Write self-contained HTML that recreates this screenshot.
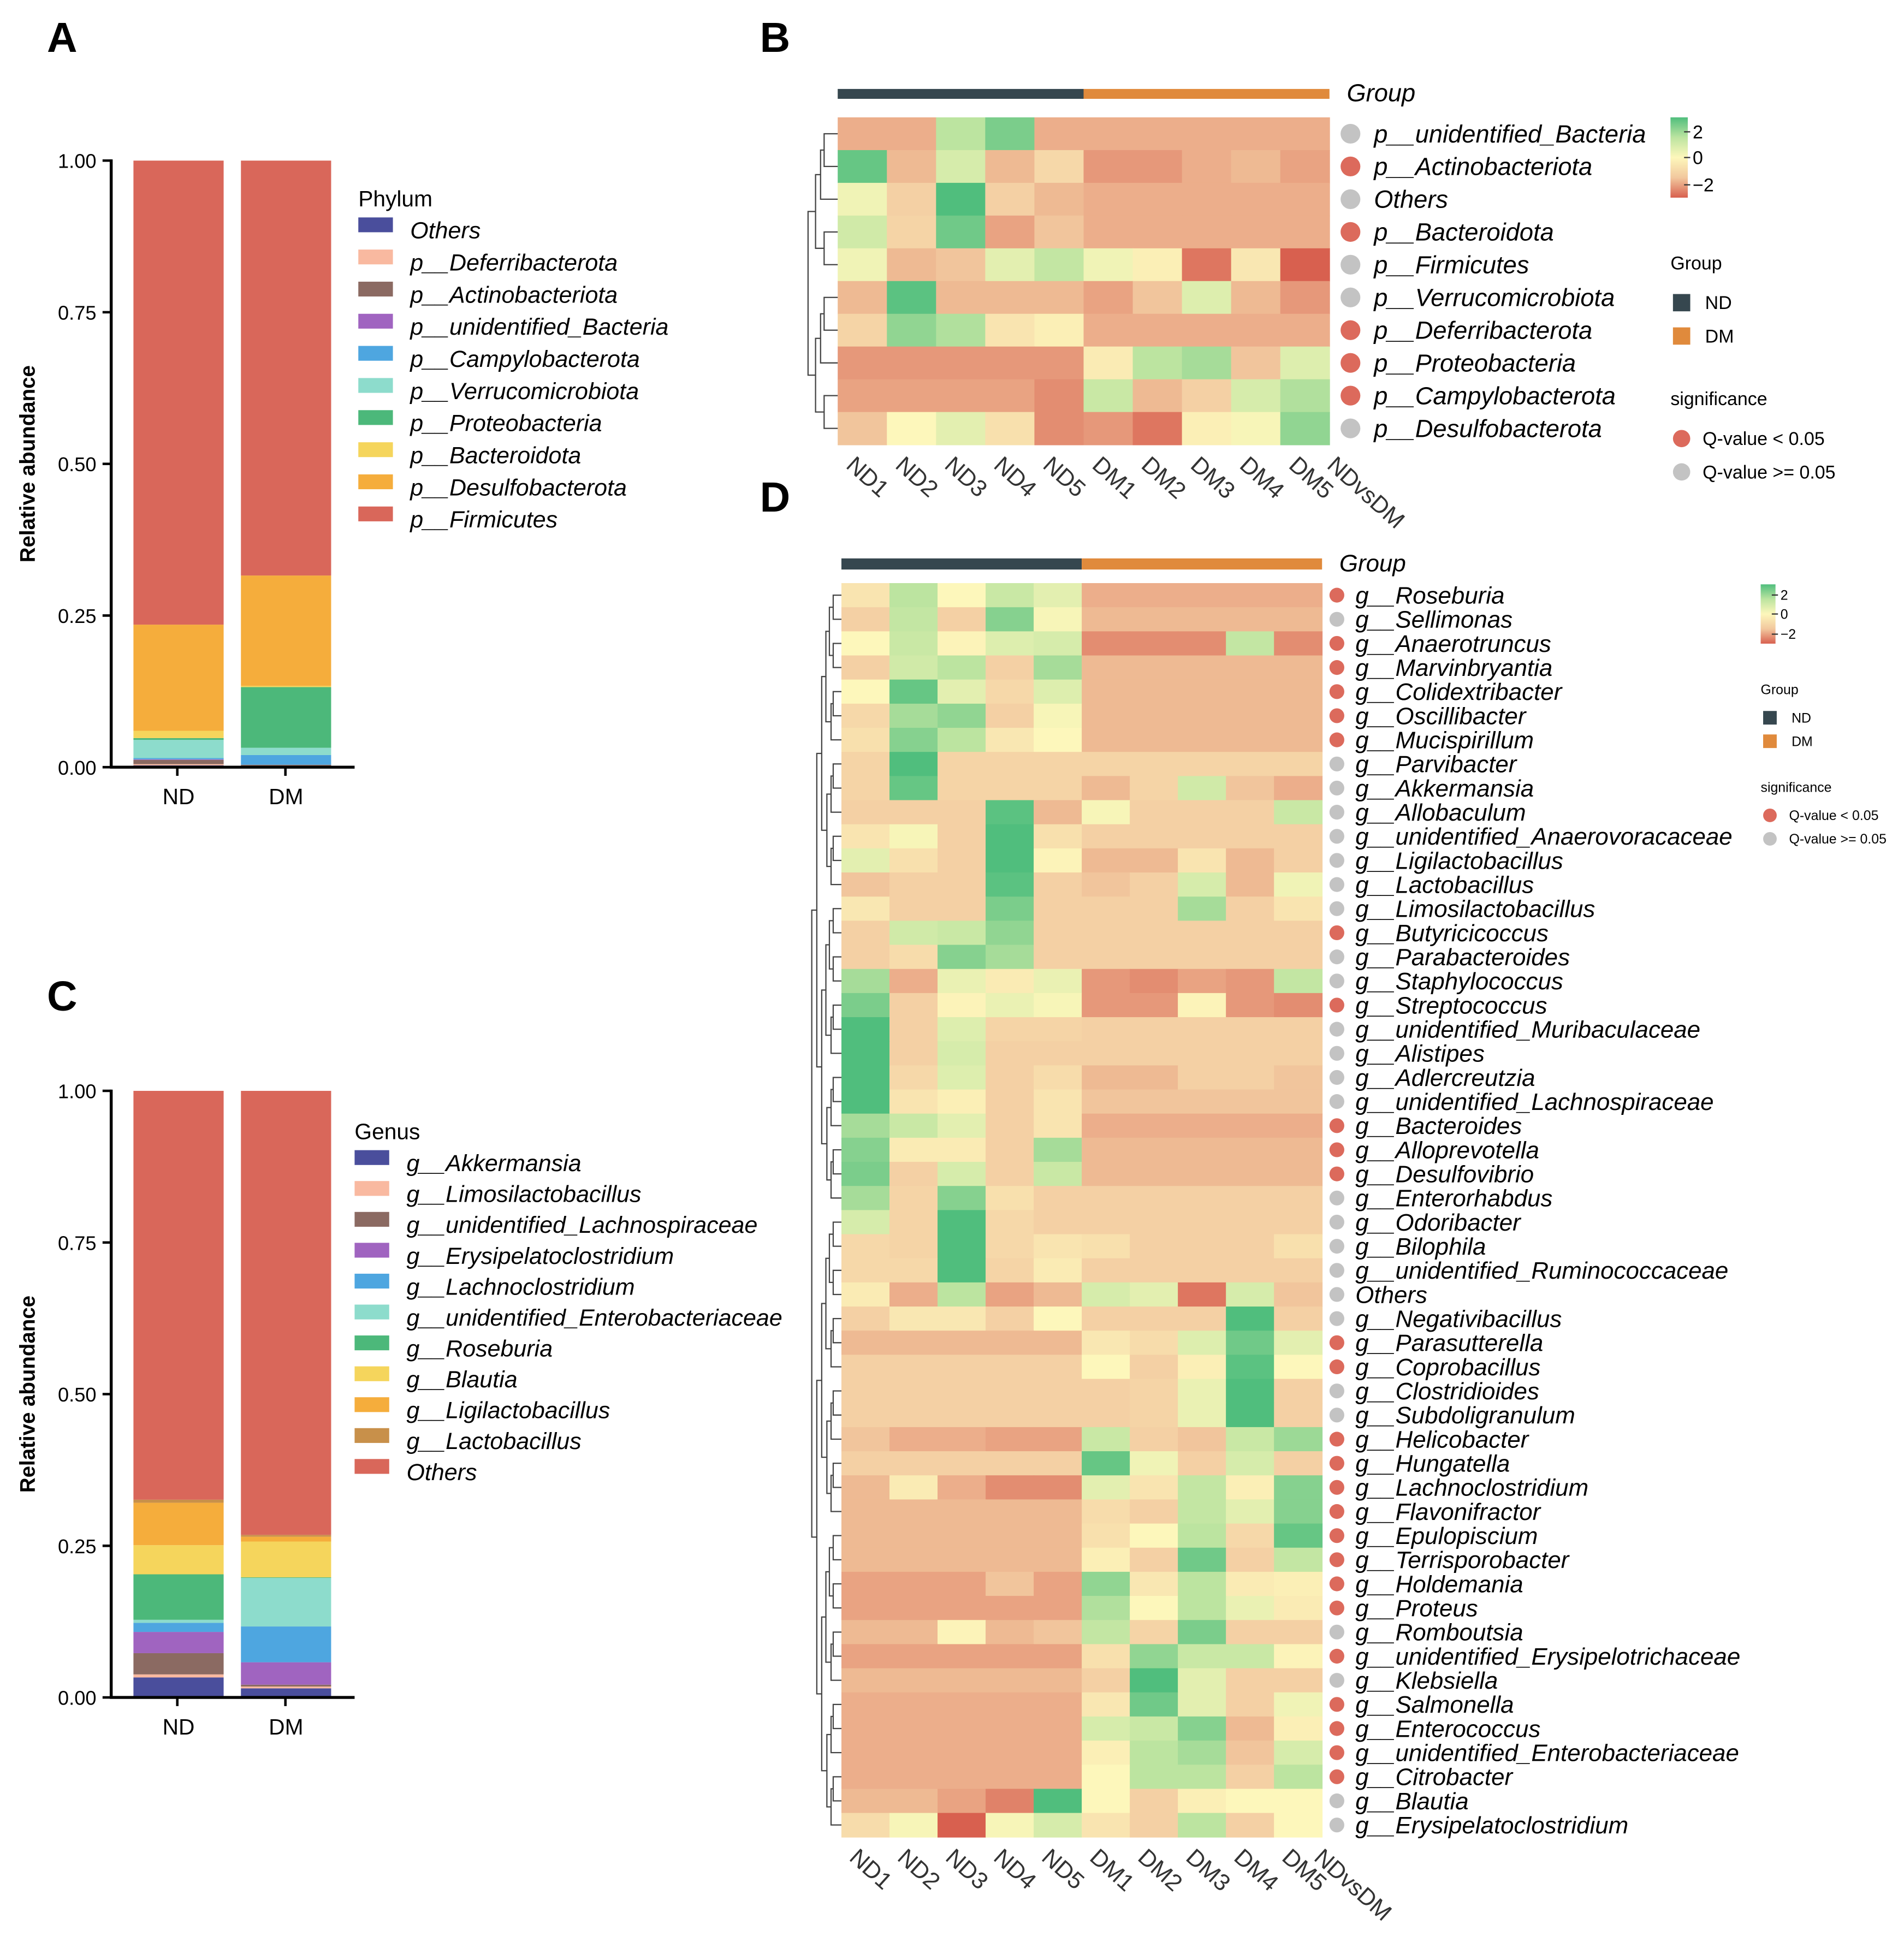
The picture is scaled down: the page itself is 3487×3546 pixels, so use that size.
<!DOCTYPE html>
<html><head><meta charset="utf-8"><style>
html,body{margin:0;padding:0;background:#fff}
svg{display:block}
text{font-family:"Liberation Sans",Arial,sans-serif}
</style></head><body>
<svg id="fig" xmlns="http://www.w3.org/2000/svg" width="3487" height="3546" viewBox="0 0 1541 1567.1" preserveAspectRatio="none">
<rect x="0" y="0" width="1560" height="1587" fill="#fff"/>
<text x="38" y="42" font-size="34" font-weight="bold">A</text>
<text x="615" y="42" font-size="34" font-weight="bold">B</text>
<text x="38" y="818" font-size="34" font-weight="bold">C</text>
<text x="615" y="414" font-size="34" font-weight="bold">D</text>
<g id="gA"></g>
<g id="gC"></g>
<g id="gB"></g>
<g id="gD"></g>
</svg>
<script>
// ---------- Data: stacked bars ----------
const phylaNames = ["Others","p__Deferribacterota","p__Actinobacteriota","p__unidentified_Bacteria","p__Campylobacterota","p__Verrucomicrobiota","p__Proteobacteria","p__Bacteroidota","p__Desulfobacterota","p__Firmicutes"];
const phylaColors = ["#4a4e9c","#f9b9a0","#8b6a62","#a064c0","#4ea6e0","#8ddccc","#4cb87a","#f5d55c","#f5ad3c","#d9675a"];
const phylaND = [0.003,0.002,0.007,0.001,0.002,0.030,0.003,0.012,0.175,0.765];
const phylaDM = [0.002,0.000,0.002,0.000,0.016,0.012,0.100,0.002,0.182,0.684];
const genusNames = ["g__Akkermansia","g__Limosilactobacillus","g__unidentified_Lachnospiraceae","g__Erysipelatoclostridium","g__Lachnoclostridium","g__unidentified_Enterobacteriaceae","g__Roseburia","g__Blautia","g__Ligilactobacillus","g__Lactobacillus","Others"];
const genusColors = ["#4a4e9c","#f9b9a0","#8b6a62","#a064c0","#4ea6e0","#8ddccc","#4cb87a","#f5d55c","#f5ad3c","#c8904a","#d9675a"];
const genusND = [0.033,0.005,0.035,0.035,0.015,0.005,0.075,0.048,0.070,0.005,0.674];
const genusDM = [0.015,0.003,0.003,0.037,0.059,0.080,0.001,0.059,0.008,0.003,0.732];
const barGroups = ["ND","DM"];
const yTicks = [0,0.25,0.5,0.75,1.0];
const yTickLabels = ["0.00","0.25","0.50","0.75","1.00"];

// ---------- Data: heatmap B ----------
const bRows = ["p__unidentified_Bacteria","p__Actinobacteriota","Others","p__Bacteroidota","p__Firmicutes","p__Verrucomicrobiota","p__Deferribacterota","p__Proteobacteria","p__Campylobacterota","p__Desulfobacterota"];
const bSig = [0,1,0,1,0,0,1,1,1,0];
const sampleCols = ["ND1","ND2","ND3","ND4","ND5","DM1","DM2","DM3","DM4","DM5"];
const bValues = [
[-1.3,-1.3,1,1.6,-1.3,-1.3,-1.3,-1.3,-1.3,-1.3],
[1.8,-1.2,0.6,-1.2,-0.8,-1.5,-1.5,-1.3,-1.2,-1.4],
[0.2,-1,2,-1,-1.2,-1.3,-1.3,-1.3,-1.3,-1.3],
[0.7,-0.9,1.7,-1.4,-1.1,-1.3,-1.3,-1.3,-1.3,-1.3],
[0.2,-1.2,-1.1,0.4,0.9,0.2,-0.2,-1.8,-0.4,-2.2],
[-1.2,1.9,-1.2,-1.2,-1.2,-1.4,-1.1,0.5,-1.2,-1.5],
[-0.9,1.4,1.1,-0.5,-0.2,-1.3,-1.3,-1.3,-1.3,-1.3],
[-1.5,-1.5,-1.5,-1.5,-1.5,-0.3,1,1.2,-1.1,0.5],
[-1.4,-1.4,-1.4,-1.4,-1.6,0.8,-1.2,-1,0.6,1.1],
[-1.1,0,0.4,-0.6,-1.6,-1.5,-1.8,-0.2,0.1,1.4]];

// ---------- Data: heatmap D ----------
const dRows = ["g__Roseburia","g__Sellimonas","g__Anaerotruncus","g__Marvinbryantia","g__Colidextribacter","g__Oscillibacter","g__Mucispirillum","g__Parvibacter","g__Akkermansia","g__Allobaculum","g__unidentified_Anaerovoracaceae","g__Ligilactobacillus","g__Lactobacillus","g__Limosilactobacillus","g__Butyricicoccus","g__Parabacteroides","g__Staphylococcus","g__Streptococcus","g__unidentified_Muribaculaceae","g__Alistipes","g__Adlercreutzia","g__unidentified_Lachnospiraceae","g__Bacteroides","g__Alloprevotella","g__Desulfovibrio","g__Enterorhabdus","g__Odoribacter","g__Bilophila","g__unidentified_Ruminococcaceae","Others","g__Negativibacillus","g__Parasutterella","g__Coprobacillus","g__Clostridioides","g__Subdoligranulum","g__Helicobacter","g__Hungatella","g__Lachnoclostridium","g__Flavonifractor","g__Epulopiscium","g__Terrisporobacter","g__Holdemania","g__Proteus","g__Romboutsia","g__unidentified_Erysipelotrichaceae","g__Klebsiella","g__Salmonella","g__Enterococcus","g__unidentified_Enterobacteriaceae","g__Citrobacter","g__Blautia","g__Erysipelatoclostridium"];
const dSig = [1,0,1,1,1,1,1,0,0,0,0,0,0,0,1,0,0,1,0,0,0,0,1,1,1,0,0,0,0,0,0,1,1,0,0,1,1,1,1,1,1,1,1,0,1,0,1,1,1,1,0,0];
const dValues = [
[-0.5,1,0,0.8,0.4,-1.3,-1.3,-1.3,-1.3,-1.3],
[-1,0.9,-1,1.5,0.1,-1.2,-1.2,-1.2,-1.2,-1.2],
[0,0.8,-0.1,0.5,0.6,-1.6,-1.6,-1.6,0.9,-1.6],
[-1,0.7,1,-1,1.2,-1.2,-1.2,-1.2,-1.2,-1.2],
[0,1.8,0.4,-0.8,0.5,-1.2,-1.2,-1.2,-1.2,-1.2],
[-0.8,1.2,1.4,-1,0.1,-1.2,-1.2,-1.2,-1.2,-1.2],
[-0.6,1.5,1,-0.4,0,-1.2,-1.2,-1.2,-1.2,-1.2],
[-0.9,2,-0.9,-0.9,-0.9,-0.9,-0.9,-0.9,-0.9,-0.9],
[-0.9,1.8,-0.9,-0.9,-0.9,-1.2,-0.9,0.7,-1.1,-1.3],
[-1,-1,-1,1.9,-1.2,0.1,-1,-1,-1,0.8],
[-0.5,0.1,-1,2,-0.6,-1,-1,-1,-1,-1],
[0.4,-0.6,-1,2,-0.1,-1.2,-1.2,-0.5,-1.2,-1],
[-1.1,-1,-1,1.9,-1,-1.1,-1,0.6,-1.2,0.2],
[-0.4,-1,-1,1.6,-1,-1,-1,1.2,-1,-0.5],
[-1,0.7,0.8,1.4,-1,-1,-1,-1,-1,-1],
[-1,-0.7,1.5,1.2,-1,-1,-1,-1,-1,-1],
[1.2,-1.3,0.3,-0.3,0.3,-1.5,-1.6,-1.4,-1.5,0.9],
[1.6,-1,-0.1,0.3,0.1,-1.5,-1.5,-0.1,-1.5,-1.6],
[2,-1,0.5,-0.9,-0.9,-1,-1,-1,-1,-1],
[2,-1,0.6,-1,-1,-1,-1,-1,-1,-1],
[2,-0.8,0.5,-1,-0.7,-1.2,-1.2,-1,-1,-1.1],
[2,-0.5,-0.2,-1,-0.5,-1.1,-1.1,-1.1,-1.1,-1.1],
[1.2,0.8,0.4,-1,-0.5,-1.3,-1.3,-1.3,-1.3,-1.3],
[1.5,-0.3,-0.3,-1,1.2,-1.2,-1.2,-1.2,-1.2,-1.2],
[1.6,-1,0.6,-1,0.8,-1.2,-1.2,-1.2,-1.2,-1.2],
[1.2,-0.9,1.5,-0.6,-1,-1,-1,-1,-1,-1],
[0.6,-0.9,2,-0.8,-1,-1,-1,-1,-1,-1],
[-0.8,-0.9,2,-0.8,-0.5,-0.6,-1,-1,-1,-0.6],
[-0.8,-0.8,2,-0.9,-0.3,-1,-1,-1,-1,-1],
[-0.3,-1.3,1,-1.4,-1.2,0.6,0.4,-1.8,0.6,-1.1],
[-1,-0.4,-0.4,-1,0,-1,-1,-1,2,-1],
[-1.2,-1.2,-1.2,-1.2,-1.2,-0.4,-0.7,0.5,1.7,0.4],
[-1,-1,-1,-1,-1,0,-1,-0.2,1.9,0],
[-1,-1,-1,-1,-1,-1,-0.9,0.3,2,-1],
[-1,-1,-1,-1,-1,-1,-0.9,0.3,2,-1],
[-1.1,-1.3,-1.3,-1.4,-1.4,0.8,-1,-1.1,0.8,1.3],
[-1,-1,-1,-1,-1,1.8,0.2,-1,0.6,-1],
[-1.2,-0.3,-1.3,-1.6,-1.6,0.4,-0.5,0.9,-0.2,1.5],
[-1.2,-1.2,-1.2,-1.2,-1.2,-0.7,-1,0.9,0.4,1.5],
[-1.2,-1.2,-1.2,-1.2,-1.2,-0.6,0,1,-0.8,1.8],
[-1.2,-1.2,-1.2,-1.2,-1.2,-0.2,-1,1.7,-1,0.9],
[-1.4,-1.4,-1.4,-1.1,-1.4,1.4,-0.4,1,-0.3,-0.2],
[-1.4,-1.4,-1.4,-1.4,-1.4,1.1,0,1,0.3,-0.3],
[-1.2,-1.2,-0.1,-1.2,-1.1,0.9,-0.9,1.6,-1,-1],
[-1.4,-1.4,-1.4,-1.4,-1.4,-0.6,1.4,0.8,0.8,-0.1],
[-1.2,-1.2,-1.2,-1.2,-1.2,-1,2,0.4,-1,-1],
[-1.3,-1.3,-1.3,-1.3,-1.3,-0.4,1.7,0.4,-1,0.2],
[-1.3,-1.3,-1.3,-1.3,-1.3,0.6,0.8,1.5,-1.2,-0.2],
[-1.3,-1.3,-1.3,-1.3,-1.3,-0.2,1,1.2,-1.1,0.6],
[-1.3,-1.3,-1.3,-1.3,-1.3,0,1,1,-1,1],
[-1.2,-1.2,-1.4,-1.7,2,0,-1,-0.2,0,0],
[-0.7,0.1,-2.3,0.1,0.6,-0.5,-1,1,-1,0]];

const NS="http://www.w3.org/2000/svg";
function mk(parent,tag,attrs,txt){const e=document.createElementNS(NS,tag);for(const k in attrs)e.setAttribute(k,attrs[k]);if(txt!==undefined)e.textContent=txt;parent.appendChild(e);return e;}

const stops=[[-2,[216,96,79]],[-1,[244,208,164]],[0,[253,247,187]],[1,[188,228,160]],[2,[80,190,125]]];
function colorOf(v){v=Math.max(-2,Math.min(2,v));for(let i=0;i<stops.length-1;i++){const a=stops[i],b=stops[i+1];if(v<=b[0]){const t=(v-a[0])/(b[0]-a[0]);const c=a[1].map((x,j)=>Math.round(x+(b[1][j]-x)*t));return `rgb(${c[0]},${c[1]},${c[2]})`;}}return "rgb(80,190,125)";}

// ---------- Stacked bars ----------
function stacked(g,cfg){
  const y=v=>cfg.y1-(cfg.y1-cfg.y0)*v;
  const series=[cfg.nd,cfg.dm];
  const bx=[108,195], bw=73;
  series.forEach((arr,gi)=>{let cum=0;arr.forEach((v,i)=>{
    const r=mk(g,'rect',{x:bx[gi],y:y(cum+v),width:bw,height:Math.max(0,y(cum)-y(cum+v)),fill:cfg.colors[i]});
    
    
    cum+=v;});
    const t=mk(g,'text',{x:bx[gi]+bw/2,y:cfg.y1+30,'font-size':18,'text-anchor':'middle'},barGroups[gi]);
    
    
  });
  mk(g,'line',{x1:90,y1:cfg.y0-1,x2:90,y2:cfg.y1+1,stroke:'#000','stroke-width':2.4});
  mk(g,'line',{x1:89,y1:cfg.y1,x2:287,y2:cfg.y1,stroke:'#000','stroke-width':2.4});
  yTicks.forEach((v,i)=>{
    mk(g,'line',{x1:83,y1:y(v),x2:90,y2:y(v),stroke:'#000','stroke-width':2});
    const t=mk(g,'text',{x:78,y:y(v)+6,'font-size':16,'text-anchor':'end'},yTickLabels[i]);
    
    
  });
  [143.5,231].forEach(x=>mk(g,'line',{x1:x,y1:cfg.y1,x2:x,y2:cfg.y1+7,stroke:'#000','stroke-width':2}));
  const yc=(cfg.y0+cfg.y1)/2;
  const at=mk(g,'text',{x:28,y:yc,'font-size':17,'font-weight':'bold','text-anchor':'middle',transform:`rotate(-90 28 ${yc})`},'Relative abundance');
  
  
  const lt=mk(g,'text',{x:cfg.lx,y:cfg.ly0-20,'font-size':18},cfg.title);
  
  
  cfg.names.forEach((n,i)=>{
    const yy=cfg.ly0+i*cfg.lstep;
    const le=mk(g,'g',{});
    
    
    mk(le,'rect',{x:cfg.lx,y:yy-11,width:28,height:12,fill:cfg.colors[i]});
    mk(le,'text',{x:cfg.lx+42,y:yy+6,'font-size':19,'font-style':'italic'},n);
  });
}
stacked(document.getElementById('gA'),{y0:130,y1:621,nd:phylaND,dm:phylaDM,colors:phylaColors,names:phylaNames,title:'Phylum',lx:290,ly0:187,lstep:26.0});
stacked(document.getElementById('gC'),{y0:883,y1:1374,nd:genusND,dm:genusDM,colors:genusColors,names:genusNames,title:'Genus',lx:287,ly0:942,lstep:25.0});

// ---------- Heatmaps ----------
function dendro(g,n,top,rh,xr,xl){
  function rec(lo,hi,depth){
    if(lo===hi) return {y:top+(lo+0.5)*rh,x:xr};
    const mid=Math.floor((lo+hi)/2);
    const a=rec(lo,mid,depth+1), b=rec(mid+1,hi,depth+1);
    const span=hi-lo+1;
    const x=xr-(xr-xl)*Math.min(1,Math.log2(span+1)/Math.log2(n+1));
    mk(g,'path',{d:`M${a.x} ${a.y}H${x}V${b.y}H${b.x}`,fill:'none',stroke:'#444','stroke-width':1});
    return {y:(a.y+b.y)/2,x:x};
  }
  rec(0,n-1,0);
}
function heatmap(g,cfg){
  const cw=(cfg.x1-cfg.x0)/10, rh=(cfg.y1-cfg.y0)/cfg.rows.length;
  const gb=mk(g,'rect',{x:cfg.x0,y:cfg.gy,width:cw*5,height:cfg.gh,fill:'#36474f'});
  
  
  const gd=mk(g,'rect',{x:cfg.x0+cw*5,y:cfg.gy,width:cw*5,height:cfg.gh,fill:'#e08a3c'});
  
  
  mk(g,'text',{x:cfg.x1+14,y:cfg.gy+cfg.gh/2+6,'font-size':cfg.fs,'font-style':'italic'},'Group');
  cfg.values.forEach((row,r)=>row.forEach((v,c)=>{
    const cell=mk(g,'rect',{x:cfg.x0+c*cw,y:cfg.y0+r*rh,width:cw+0.4,height:rh+0.4,fill:colorOf(v)});
    
    
  }));
  cfg.rows.forEach((n,r)=>{
    const yc=cfg.y0+(r+0.5)*rh;
    const d=mk(g,'circle',{cx:cfg.x1+cfg.dotdx,cy:yc,r:cfg.dotr,fill:cfg.sig[r]?'#dc6a5c':'#c3c3c3'});
    
    
    const t=mk(g,'text',{x:cfg.x1+cfg.textdx,y:yc+cfg.fs*0.35,'font-size':cfg.fs,'font-style':'italic'},n);
    
    
  });
  dendro(g,cfg.rows.length,cfg.y0,rh,cfg.x0,cfg.x0-24);
  const labs=sampleCols.concat(['NDvsDM']);
  labs.forEach((l,c)=>{
    const x=cfg.x0+c*cw+cw/2-14+(c===10?cfg.dotdx-cw/2-cw*0.5+14:0);
    const yy=cfg.y1+18;
    const t=mk(g,'text',{x:x,y:yy,'font-size':cfg.cfs,fill:'#333',transform:`rotate(42 ${x} ${yy})`},l);
    
    
  });
  const L=cfg.leg;
  const defs=mk(g,'defs',{});
  const lg=mk(defs,'linearGradient',{id:'cg'+cfg.id,x1:0,y1:0,x2:0,y2:1});
  [[0,'#50be7d'],[0.25,'#bce4a0'],[0.5,'#fdf7bb'],[0.75,'#f2c89e'],[1,'#d8604f']].forEach(s=>mk(lg,'stop',{offset:s[0],'stop-color':s[1]}));
  const cb=mk(g,'rect',{x:L.x,y:L.cy,width:L.cw,height:L.ch,fill:`url(#cg${cfg.id})`});
  
  
  [['2',0.18],['0',0.5],['−2',0.84]].forEach(a=>{const yy=L.cy+L.ch*a[1];mk(g,'line',{x1:L.x+L.cw-3,y1:yy,x2:L.x+L.cw+2,y2:yy,stroke:'#333'});mk(g,'text',{x:L.x+L.cw+4,y:yy+L.fs*0.35,'font-size':L.fs},a[0]);});
  mk(g,'text',{x:L.x,y:L.gy,'font-size':L.fs},'Group');
  [['ND','#36474f',L.gy+L.step],['DM','#e08a3c',L.gy+2*L.step]].forEach(a=>{
    const e=mk(g,'g',{});
    
    
    mk(e,'rect',{x:L.x+2,y:a[2]-L.sq/2,width:L.sq,height:L.sq,fill:a[1]});
    mk(e,'text',{x:L.x+L.sq+14,y:a[2]+L.fs*0.35,'font-size':L.fs},a[0]);
  });
  mk(g,'text',{x:L.x,y:L.sy,'font-size':L.fs},'significance');
  [['Q-value < 0.05','#dc6a5c',L.sy+L.step],['Q-value >= 0.05','#c3c3c3',L.sy+2*L.step]].forEach(a=>{
    const e=mk(g,'g',{});
    
    
    mk(e,'circle',{cx:L.x+L.sq/2+2,cy:a[2],r:L.sq/2,fill:a[1]});
    mk(e,'text',{x:L.x+L.sq+12,y:a[2]+L.fs*0.35,'font-size':L.fs},a[0]);
  });
}
heatmap(document.getElementById('gB'),{id:'B',x0:678,x1:1076,y0:95,y1:360,gy:72,gh:8,rows:bRows,values:bValues,sig:bSig,fs:20,cfs:19,dotdx:17,dotr:8,textdx:36,
  leg:{x:1352,cy:95,cw:14,ch:65,fs:15,gy:218,step:27,sq:14,sy:328}});
heatmap(document.getElementById('gD'),{id:'D',x0:681,x1:1070,y0:472,y1:1487,gy:452,gh:9,rows:dRows,values:dValues,sig:dSig,fs:19.4,cfs:19,dotdx:12,dotr:6,textdx:27,
  leg:{x:1425,cy:473,cw:12,ch:48,fs:11,gy:562,step:19,sq:11,sy:641}});
</script>
</body></html>
